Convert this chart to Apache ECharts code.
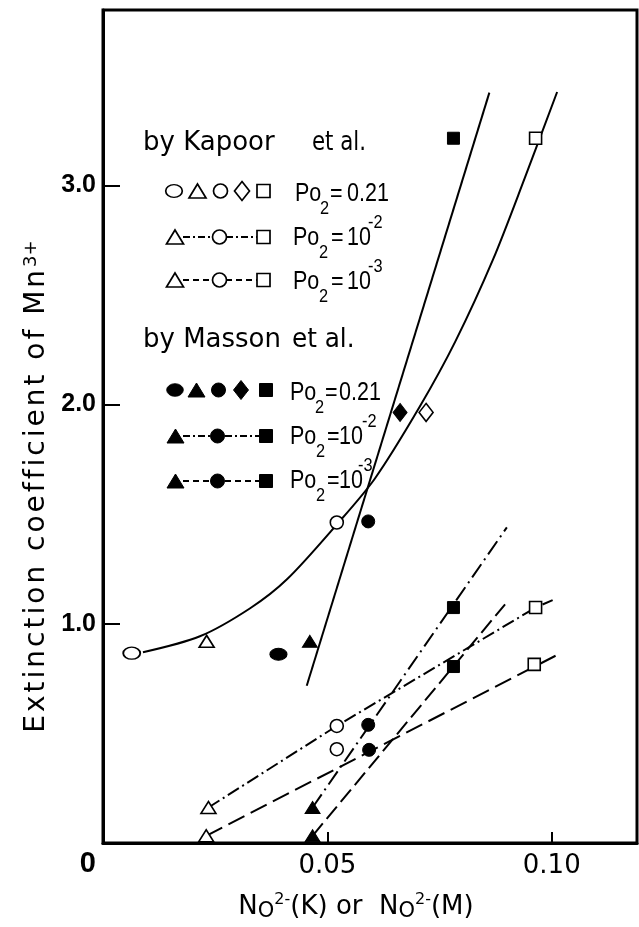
<!DOCTYPE html>
<html>
<head>
<meta charset="utf-8">
<script src="https://cdn.jsdelivr.net/npm/echarts@6/dist/echarts.min.js"></script>
<style>
  html, body { margin: 0; padding: 0; background: #fff; }
  #chart { width: 639px; height: 927px; }
</style>
</head>
<body>
<div id="chart"></div>
<script>
// ---- axis ticks ----
const xTickValues = [0.05, 0.10];
const xTickLabels = ['0.05', '0.10'];
const yTickValues = [1, 2, 3];
const yTickLabels = ['1.0', '2.0', '3.0'];
const yTitle = 'Extinction coefficient of Mn';
const yTitleSup = '3+';

// ---- Kapoor et al., Po2 = 0.21 (open markers) ----
const kapoorAirEllipse = [[0.0064, 0.866]];
const kapoorAirTriangle = [[0.0231, 0.920]];
const kapoorAirCircle = [[0.0521, 1.462]];
const kapoorAirDiamond = [[0.0720, 1.964]];
const kapoorAirSquare = [[0.0964, 3.215]];
// hand-drawn curve through the Kapoor Po2 = 0.21 points
const kapoorAirCurve = [
  [0.0089, 0.870], [0.0216, 0.943], [0.0328, 1.071], [0.0410, 1.203],
  [0.0521, 1.453], [0.0606, 1.663], [0.0706, 1.991], [0.0785, 2.287],
  [0.0869, 2.661], [0.0940, 3.034], [0.1012, 3.426]
];

// ---- Kapoor et al., Po2 = 1e-2 and 1e-3 ----
const kapoor2Triangle = [[0.0235, 0.162]];
const kapoor2Circle = [[0.0521, 0.534]];
const kapoor2Square = [[0.0964, 1.074]];
const kapoor2Line = [[0.0235, 0.162], [0.0521, 0.534], [0.0964, 1.074], [0.1002, 1.108]];

const kapoor3Triangle = [[0.0230, 0.033]];
const kapoor3Circle = [[0.0521, 0.428]];
const kapoor3Square = [[0.0961, 0.815]];
const kapoor3Line = [[0.0230, 0.033], [0.1015, 0.861]];

// ---- Masson et al., Po2 = 0.21 (filled markers) ----
const massonAirEllipse = [[0.0391, 0.861]];
const massonAirTriangle = [[0.0461, 0.920]];
const massonAirCircle = [[0.0591, 1.467]];
const massonAirDiamond = [[0.0662, 1.964]];
const massonAirSquare = [[0.0781, 3.215]];
const massonAirLine = [[0.0454, 0.717], [0.0861, 3.423]];

// ---- Masson et al., Po2 = 1e-2 and 1e-3 ----
const masson2Triangle = [[0.0467, 0.162]];
const masson2Circle = [[0.0591, 0.539]];
const masson2Square = [[0.0781, 1.074]];
const masson2Line = [[0.0467, 0.162], [0.0900, 1.440]];

const masson3Triangle = [[0.0467, 0.033]];
const masson3Circle = [[0.0593, 0.425]];
const masson3Square = [[0.0781, 0.805]];
const masson3Line = [[0.0467, 0.033], [0.0896, 1.089]];

const BLACK = '#000';
const SANS = "'Liberation Sans', Arial, sans-serif";
const WIDE = "'DejaVu Sans', sans-serif";

const DASH_DOT_K = [13, 4, 2, 4];
const DASH_K = [18, 7];
const DASH_DOT_M = [16, 5, 2, 5];
const DASH_M = [16, 6];

function lineSeries(data, dash, smooth) {
  return {
    type: 'line', data: data, smooth: smooth || false, symbol: 'none',
    silent: true, clip: false, z: 2,
    lineStyle: { color: BLACK, width: 2, type: dash || 'solid' }
  };
}

const SYMBOLS = {
  ellipse: { symbol: 'circle', size: [17, 12] },
  triangle: { symbol: 'triangle', size: [15, 12] },
  circle: { symbol: 'circle', size: [13, 13] },
  diamond: { symbol: 'diamond', size: [14, 18] },
  square: { symbol: 'rect', size: [12, 12] }
};

function markSeries(data, kind, filled) {
  const s = SYMBOLS[kind];
  return {
    type: 'scatter', data: data, symbol: s.symbol, symbolSize: s.size,
    clip: false, silent: true, z: 5,
    itemStyle: filled
      ? { color: BLACK, borderColor: BLACK, borderWidth: 1, opacity: 1 }
      : { color: '#fff', borderColor: BLACK, borderWidth: 1.6, opacity: 1 }
  };
}

// ---- legend drawn with graphic elements ----
function legendMark(kind, cx, cy, filled) {
  const style = filled
    ? { fill: BLACK, stroke: BLACK, lineWidth: 1 }
    : { fill: '#fff', stroke: BLACK, lineWidth: 1.7 };
  switch (kind) {
    case 'ellipse':
      return { type: 'circle', x: cx, y: cy, scaleY: 0.76, shape: { cx: 0, cy: 0, r: 8.3 },
               style: Object.assign({ strokeNoScale: true }, style), z: 20 };
    case 'triangle':
      return { type: 'polygon', shape: { points: [[cx, cy - 7], [cx + 8.5, cy + 7], [cx - 8.5, cy + 7]] }, style, z: 20 };
    case 'circle':
      return { type: 'circle', shape: { cx, cy, r: 7 }, style, z: 20 };
    case 'diamond':
      return { type: 'polygon', shape: { points: [[cx, cy - 9.5], [cx + 7.5, cy], [cx, cy + 9.5], [cx - 7.5, cy]] }, style, z: 20 };
    case 'square':
      return { type: 'rect', shape: { x: cx - 6.5, y: cy - 6.5, width: 13, height: 13 }, style, z: 20 };
  }
}

function legendLine(x1, x2, y, dash) {
  return { type: 'line', shape: { x1, y1: y, x2, y2: y },
           style: { stroke: BLACK, lineWidth: 1.8, lineDash: dash }, z: 19 };
}

function legendText(text, x, y, size, family, sx) {
  return { type: 'text', x, y, z: 20, scaleX: sx || 0.86,
           style: { text, fill: BLACK, fontSize: size, fontFamily: family || SANS,
                    align: 'left', verticalAlign: 'middle', textAlign: 'left', textVerticalAlign: 'middle' } };
}

// "Po2 = value" row label; pieces placed from their left edges
function poLabel(y, pos, value, sup) {
  const items = [
    legendText('Po', pos[0], y, 25),
    legendText('2', pos[1], y + 15, 19),
    legendText('=', pos[2], y, 25),
    legendText(value, pos[3], y, 25)
  ];
  if (sup) items.push(legendText(sup, pos[4], y - 15, 19));
  return items;
}

const legendItems = [];
// Kapoor block
legendItems.push(legendText('by Kapoor', 143, 143, 26, WIDE, 1));
legendItems.push(legendText('et al.', 312, 143, 26, WIDE, 0.82));
['ellipse', 'triangle', 'circle', 'diamond', 'square'].forEach(function (k, i) {
  legendItems.push(legendMark(k, [174, 197.5, 220.5, 242, 263.5][i], 191, false));
});
legendItems.push(...poLabel(194, [295, 320, 330, 347], '0.21'));
legendItems.push(legendLine(183, 213, 237, [7, 3, 2, 3]));
legendItems.push(legendLine(226, 257, 237, [7, 3, 2, 3]));
legendItems.push(legendMark('triangle', 175, 237, false));
legendItems.push(legendMark('circle', 219.5, 237, false));
legendItems.push(legendMark('square', 263.5, 237, false));
legendItems.push(...poLabel(238, [293, 319, 331, 347, 368], '10', '-2'));
legendItems.push(legendLine(183, 213, 280, [6, 4]));
legendItems.push(legendLine(226, 257, 280, [6, 4]));
legendItems.push(legendMark('triangle', 175, 280, false));
legendItems.push(legendMark('circle', 219.5, 280, false));
legendItems.push(legendMark('square', 263.5, 280, false));
legendItems.push(...poLabel(282, [293, 319, 331, 347, 368], '10', '-3'));
// Masson block
legendItems.push(legendText('by Masson', 143, 340, 26, WIDE, 1));
legendItems.push(legendText('et al.', 292, 340, 26, WIDE, 0.95));
['ellipse', 'triangle', 'circle', 'diamond', 'square'].forEach(function (k, i) {
  legendItems.push(legendMark(k, [175, 196.5, 218.5, 241, 266][i], 390, true));
});
legendItems.push(...poLabel(393, [290, 315, 325, 339], '0.21'));
legendItems.push(legendLine(183, 210, 436, [7, 3, 2, 3]));
legendItems.push(legendLine(225, 259, 436, [7, 3, 2, 3]));
legendItems.push(legendMark('triangle', 175.5, 436, true));
legendItems.push(legendMark('circle', 217.5, 436, true));
legendItems.push(legendMark('square', 266, 436, true));
legendItems.push(...poLabel(437, [290, 316, 327, 339, 362], '10', '-2'));
legendItems.push(legendLine(183, 210, 481, [6, 4]));
legendItems.push(legendLine(225, 259, 481, [6, 4]));
legendItems.push(legendMark('triangle', 175.5, 481, true));
legendItems.push(legendMark('circle', 217.5, 481, true));
legendItems.push(legendMark('square', 266, 481, true));
legendItems.push(...poLabel(481, [290, 316, 327, 339, 358], '10', '-3'));

// y-axis title with wide letter spacing, one rich token per character
const yTitleRich = Array.from(yTitle).map(function (ch) {
  return '{c|' + ch + '}';
}).join('') + '{sup|' + yTitleSup + '}';

const chart = echarts.init(document.getElementById('chart'), null, { renderer: 'canvas' });

chart.setOption({
  backgroundColor: '#fff',
  animation: false,
  grid: { left: 103, right: 2, top: 10, bottom: 83, show: true, borderColor: BLACK, borderWidth: 3, backgroundColor: 'transparent' },
  xAxis: {
    type: 'value', min: 0, max: 0.119, interval: 0.05,
    splitLine: { show: false },
    axisLine: { show: true, lineStyle: { color: BLACK, width: 3 } },
    axisTick: { show: true, inside: true, length: 11, customValues: xTickValues, lineStyle: { color: BLACK, width: 2 } },
    axisLabel: {
      customValues: xTickValues, margin: 10, color: BLACK, fontSize: 26, fontFamily: WIDE,
      formatter: function (v) {
        const i = xTickValues.findIndex(function (t) { return Math.abs(t - v) < 1e-9; });
        return i >= 0 ? xTickLabels[i] : '';
      }
    },
    name: '{n|N}{o|O}{s|2-}{t|(K) or  }{n|N}{o|O}{s|2-}{t|(M)}',
    nameLocation: 'middle', nameGap: 49,
    nameTextStyle: {
      color: BLACK, fontFamily: WIDE, padding: [0, 28, 0, 0],
      rich: {
        n: { fontSize: 26, lineHeight: 30, verticalAlign: 'middle', fontFamily: WIDE, color: BLACK },
        o: { fontSize: 21, lineHeight: 14, verticalAlign: 'bottom', fontFamily: WIDE, color: BLACK },
        s: { fontSize: 16, lineHeight: 18, verticalAlign: 'top', fontFamily: WIDE, color: BLACK },
        t: { fontSize: 26, lineHeight: 30, verticalAlign: 'middle', fontFamily: WIDE, color: BLACK }
      }
    }
  },
  yAxis: {
    type: 'value', min: 0, max: 3.8, interval: 1,
    splitLine: { show: false },
    axisLine: { show: true, lineStyle: { color: BLACK, width: 3 } },
    axisTick: { show: true, inside: true, length: 17, customValues: yTickValues, lineStyle: { color: BLACK, width: 2 } },
    axisLabel: {
      customValues: [0].concat(yTickValues), margin: 7, color: BLACK, fontSize: 25,
      fontFamily: SANS, fontWeight: 'bold',
      formatter: function (v) {
        if (v === 0) return '{z|0}';
        const i = yTickValues.findIndex(function (t) { return Math.abs(t - v) < 1e-9; });
        return i >= 0 ? yTickLabels[i] : '';
      },
      rich: { z: { padding: [42, 0, 0, 0], fontSize: 29, fontWeight: 'bold', fontFamily: SANS } }
    },
    name: yTitleRich,
    nameLocation: 'middle', nameGap: 33, nameRotate: 90,
    nameTextStyle: {
      color: BLACK, fontFamily: WIDE, fontSize: 28, padding: [0, 120, 0, 0],
      rich: {
        c: { fontSize: 28, padding: [0, 3, 0, 0], fontFamily: WIDE, color: BLACK },
        sup: { fontSize: 18, verticalAlign: 'top', lineHeight: 16, fontFamily: WIDE, color: BLACK }
      }
    }
  },
  graphic: legendItems,
  series: [
    lineSeries(kapoorAirCurve, 'solid', 0.3),
    lineSeries(massonAirLine, 'solid'),
    lineSeries(kapoor2Line, DASH_DOT_K),
    lineSeries(kapoor3Line, DASH_K),
    lineSeries(masson2Line, DASH_DOT_M),
    lineSeries(masson3Line, DASH_M),

    markSeries(kapoorAirEllipse, 'ellipse', false),
    markSeries(kapoorAirTriangle.concat(kapoor2Triangle, kapoor3Triangle), 'triangle', false),
    markSeries(kapoorAirCircle.concat(kapoor2Circle, kapoor3Circle), 'circle', false),
    markSeries(kapoorAirDiamond, 'diamond', false),
    markSeries(kapoorAirSquare.concat(kapoor2Square, kapoor3Square), 'square', false),

    markSeries(massonAirEllipse, 'ellipse', true),
    markSeries(massonAirTriangle.concat(masson2Triangle, masson3Triangle), 'triangle', true),
    markSeries(massonAirCircle.concat(masson2Circle, masson3Circle), 'circle', true),
    markSeries(massonAirDiamond, 'diamond', true),
    markSeries(massonAirSquare.concat(masson2Square, masson3Square), 'square', true)
  ]
});
</script>
</body>
</html>
